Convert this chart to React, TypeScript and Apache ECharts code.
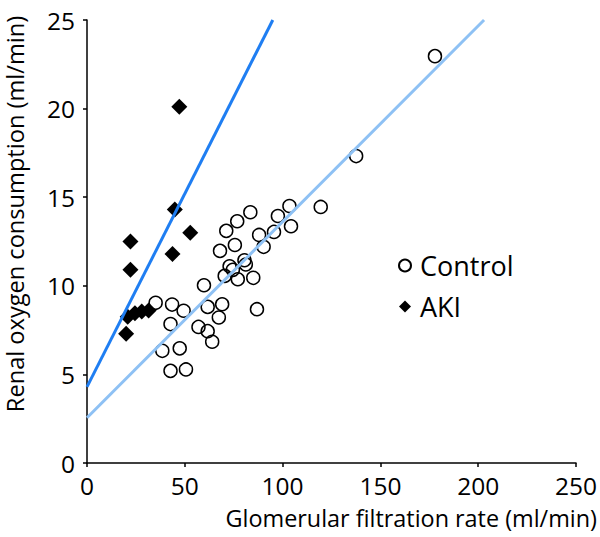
import React, { useEffect, useRef } from "react";
import * as echarts from "echarts";

const xTicks = { min: 0, max: 250, interval: 50 };
const yTicks = { min: 0, max: 25, interval: 5 };

const xTitle = "Glomerular filtration rate (ml/min)";
const yTitle = "Renal oxygen consumption (ml/min)";
const seriesNames = ["Control", "AKI"];

const controlPoints: number[][] = [
  [35.1, 9.04], [43.5, 8.94], [49.4, 8.59], [42.7, 7.84], [38.5, 6.33],
  [47.4, 6.47], [42.7, 5.2], [50.6, 5.28], [59.8, 10.03], [61.7, 8.81],
  [69.1, 8.96], [67.4, 8.21], [57.0, 7.68], [61.7, 7.44], [64.0, 6.84],
  [68.0, 11.97], [71.2, 13.1], [76.8, 13.64], [83.5, 14.15], [75.6, 12.3],
  [72.9, 11.1], [74.6, 10.9], [70.4, 10.56], [77.1, 10.37], [80.5, 11.44],
  [81.2, 11.2], [85.0, 10.45], [86.9, 8.68], [88.0, 12.87], [90.3, 12.2],
  [95.6, 13.04], [97.6, 13.94], [103.5, 14.5], [104.3, 13.36], [119.5, 14.45],
  [137.6, 17.32], [177.9, 22.96],
];

const akiPoints: number[][] = [
  [47.2, 20.1], [44.9, 14.3], [52.8, 13.0], [22.2, 12.5], [43.7, 11.8],
  [22.2, 10.9], [20.8, 8.25], [24.5, 8.45], [28.0, 8.55], [31.5, 8.6],
  [20.0, 7.3],
];

const controlFit: number[][] = [[0, 2.55], [203, 25]];
const akiFit: number[][] = [[0, 4.3], [95, 25]];

const FONT = "'Open Sans', sans-serif";

export default function App() {
  const ref = useRef<HTMLDivElement>(null);
  useEffect(() => {
    if (!ref.current) return;
    const chart = echarts.init(ref.current, null, { renderer: "svg" });
    const axisCommon = {
      axisLine: { show: true, lineStyle: { color: "#000", width: 1.5 } },
      axisTick: { show: true, inside: false, length: 4, lineStyle: { color: "#000", width: 1.5 } },
      splitLine: { show: false },
      axisLabel: { color: "#000", fontSize: 24.5, fontFamily: FONT },
    };
    chart.setOption({
      animation: false,
      backgroundColor: "#fff",
      textStyle: { fontFamily: FONT },
      grid: { left: 87, right: 17, top: 20, bottom: 74 },
      xAxis: {
        type: "value",
        ...xTicks,
        ...axisCommon,
        axisLabel: { ...axisCommon.axisLabel, margin: 10 },
      },
      yAxis: {
        type: "value",
        ...yTicks,
        ...axisCommon,
        axisLabel: { ...axisCommon.axisLabel, margin: 12 },
      },
      legend: {
        data: seriesNames,
        orient: "vertical",
        left: 398,
        top: 252,
        padding: 0,
        itemWidth: 12,
        itemHeight: 12,
        itemGap: 14,
        textStyle: {
          color: "#000",
          fontSize: 27,
          lineHeight: 27,
          fontFamily: FONT,
          padding: [0, 0, 0, 4],
        },
      },
      graphic: [
        {
          type: "text",
          x: 597,
          y: 518,
          style: {
            text: xTitle,
            fill: "#000",
            font: `23.4px ${FONT}`,
            align: "right",
            verticalAlign: "middle",
          },
        },
        {
          type: "text",
          x: 15,
          y: 214,
          rotation: Math.PI / 2,
          style: {
            text: yTitle,
            fill: "#000",
            font: `23.6px ${FONT}`,
            align: "center",
            verticalAlign: "middle",
          },
        },
      ],
      series: [
        {
          type: "line",
          data: controlFit,
          symbol: "none",
          lineStyle: { color: "#8ec1f4", width: 3 },
          silent: true,
        },
        {
          type: "line",
          data: akiFit,
          symbol: "none",
          lineStyle: { color: "#1f7ef2", width: 3 },
          silent: true,
        },
        {
          name: seriesNames[0],
          type: "scatter",
          data: controlPoints,
          symbol: "circle",
          symbolSize: 13,
          itemStyle: { color: "transparent", borderColor: "#000", borderWidth: 1.5, opacity: 1 },
        },
        {
          name: seriesNames[1],
          type: "scatter",
          data: akiPoints,
          symbol: "diamond",
          symbolSize: 16,
          itemStyle: { color: "#000", opacity: 1 },
        },
      ],
    });
    return () => chart.dispose();
  }, []);
  return (
    <div
      ref={ref}
      style={{ position: "fixed", left: 0, top: 0, width: 600, height: 537 }}
    />
  );
}
